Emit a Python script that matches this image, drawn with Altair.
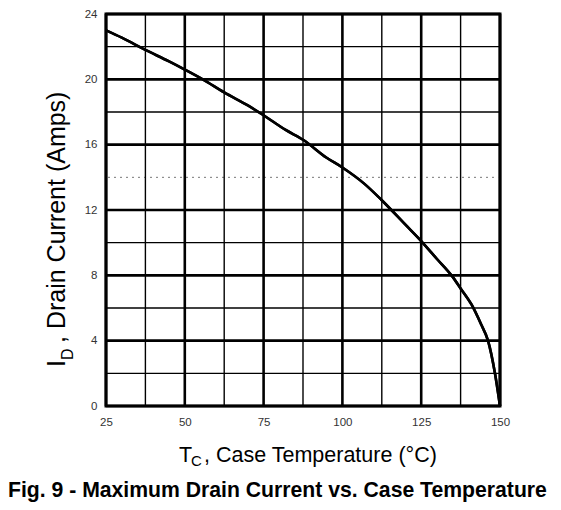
import altair as alt
import pandas as pd

# Verdier lest av figuren (Fig. 9)
temp_c = [25, 30, 37.5, 45, 50, 55.7, 62.5, 70, 75, 82, 87.5, 95, 100, 107,
          112.5, 120, 125, 130, 134.8, 137.5, 141, 144, 146.2, 148.4, 150]
drain_a = [23.0, 22.55, 21.8, 21.1, 20.6, 20.0, 19.2, 18.4, 17.8, 16.9, 16.3,
           15.2, 14.6, 13.6, 12.6, 11.1, 10.1, 9.0, 7.95, 7.2, 6.2, 5.0, 4.0,
           2.0, 0.0]

# Akser og rutenett
x_ticks = [25, 50, 75, 100, 125, 150]
y_ticks = [0, 4, 8, 12, 16, 20, 24]
x_minor = [37.5, 62.5, 87.5, 112.5, 137.5]
y_minor = [2, 6, 10, 18, 22]
y_faint = [14]

FONT = "Liberation Sans"

xs = alt.Scale(domain=[25, 150], nice=False, zero=False)
ys = alt.Scale(domain=[0, 24], nice=False, zero=False)

# samme akse i alle lag, ellers forsvinner etikettene
x_axis = alt.Axis(values=x_ticks, grid=False, ticks=False, domain=False,
                  labelPadding=10, title=None, labelFontSize=11.5,
                  labelColor="#333", labelFont=FONT, labelFlush=False)
y_axis = alt.Axis(values=y_ticks, grid=False, ticks=False, domain=False,
                  labelPadding=9, title=None, labelFontSize=11.5,
                  labelColor="#333", labelFont=FONT, labelFlush=False)


def vrules(vals, width, dash=None):
    mark = dict(color="black", strokeWidth=width)
    if dash:
        mark["strokeDash"] = dash
    return alt.Chart(pd.DataFrame({"v": vals})).mark_rule(**mark).encode(
        x=alt.X("v:Q", scale=xs, axis=x_axis))


def hrules(vals, width, dash=None, color="black"):
    mark = dict(color=color, strokeWidth=width)
    if dash:
        mark["strokeDash"] = dash
    return alt.Chart(pd.DataFrame({"v": vals})).mark_rule(**mark).encode(
        y=alt.Y("v:Q", scale=ys, axis=y_axis))


def label(text, x, y, size, **kw):
    # tekst plassert i piksler relativt til plottområdet
    return alt.Chart(pd.DataFrame({"t": [text]})).mark_text(
        text=text, font=FONT, fontSize=size, align="left",
        baseline="alphabetic", color="black", **kw
    ).encode(x=alt.value(x), y=alt.value(y))


curve = alt.Chart(pd.DataFrame({"T": temp_c, "I": drain_a})).mark_line(
    color="black", strokeWidth=2.6, interpolate="monotone"
).encode(
    x=alt.X("T:Q", scale=xs, axis=x_axis),
    y=alt.Y("I:Q", scale=ys, axis=y_axis),
)

chart = alt.layer(
    curve,
    hrules(y_faint, 1, dash=[2, 4], color="#777"),
    vrules(x_minor, 1.4),
    hrules(y_minor, 1.4),
    vrules(x_ticks, 2.6),
    hrules(y_ticks, 2.6),
    curve,
    label("T", 73, 448, 21.5),
    label("C", 85, 452, 15),
    label(", Case Temperature (°C)", 98, 448, 21.5),
    label("I", -41, 353, 25, angle=270),
    label("D", -33, 346, 16, angle=270),
    label(", Drain Current (Amps)", -41, 329, 25, angle=270),
    label("Fig. 9 - Maximum Drain Current vs. Case Temperature", -98, 483, 21.2,
          fontWeight="bold"),
).properties(
    width=394, height=392,
    padding={"left": 98, "top": 6, "right": 53, "bottom": 96},
    autosize=alt.AutoSizeParams(type="none"),
).configure_view(stroke="black", strokeWidth=3)

chart.save("out.html", embed_options={"renderer": "svg", "actions": False})
